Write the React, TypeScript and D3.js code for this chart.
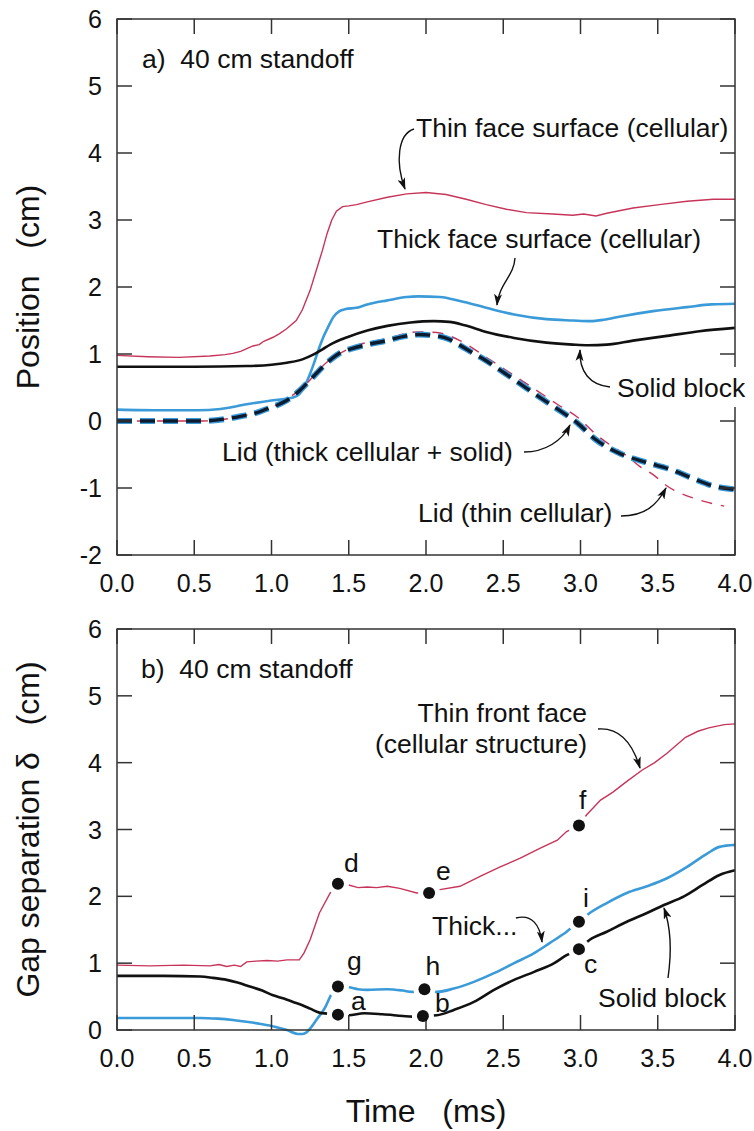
import React from "react";
import * as d3 from "d3";

// shared time axis (ms)
const timeTicks = [0, 0.5, 1, 1.5, 2, 2.5, 3, 3.5, 4];
const posTicks = [-2, -1, 0, 1, 2, 3, 4, 5, 6];
const gapTicks = [0, 1, 2, 3, 4, 5, 6];

/* a) position vs time */
const thinFaceT = [0, 0.2, 0.4, 0.6, 0.7, 0.75, 0.8, 0.84, 0.88, 0.92, 0.95, 1.01, 1.05, 1.1, 1.16, 1.2, 1.25, 1.29, 1.33, 1.36, 1.39, 1.42, 1.46, 1.5, 1.55, 1.62, 1.75, 1.875, 2.0, 2.13, 2.26, 2.39, 2.52, 2.65, 2.82, 2.95, 3.02, 3.1, 3.17, 3.34, 3.51, 3.69, 3.86, 4.0];
const thinFaceV = [0.98, 0.96, 0.95, 0.97, 0.99, 1.01, 1.04, 1.08, 1.12, 1.14, 1.19, 1.25, 1.3, 1.38, 1.5, 1.66, 1.95, 2.25, 2.55, 2.8, 3.0, 3.13, 3.2, 3.21, 3.23, 3.27, 3.34, 3.39, 3.41, 3.38, 3.31, 3.23, 3.16, 3.11, 3.09, 3.07, 3.09, 3.06, 3.1, 3.18, 3.23, 3.28, 3.31, 3.31];

const thickFaceT = [0, 0.3, 0.52, 0.67, 0.84, 1.01, 1.14, 1.18, 1.21, 1.24, 1.27, 1.31, 1.335, 1.37, 1.4, 1.44, 1.48, 1.55, 1.62, 1.75, 1.875, 1.95, 2.09, 2.22, 2.39, 2.57, 2.78, 2.95, 3.06, 3.15, 3.26, 3.47, 3.69, 3.85, 4.0];
const thickFaceV = [0.17, 0.16, 0.16, 0.18, 0.25, 0.31, 0.35, 0.4, 0.5, 0.65, 0.83, 1.1, 1.25, 1.42, 1.55, 1.64, 1.67, 1.69, 1.74, 1.8, 1.85, 1.86, 1.85, 1.79, 1.69, 1.59, 1.52, 1.5, 1.49, 1.51, 1.56, 1.64, 1.7, 1.74, 1.75];

const solidT = [0, 0.5, 0.84, 1.0, 1.1, 1.2, 1.27, 1.33, 1.38, 1.49, 1.62, 1.75, 1.9, 2.05, 2.15, 2.25, 2.39, 2.57, 2.78, 2.95, 3.05, 3.17, 3.34, 3.56, 3.77, 4.0];
const solidV = [0.81, 0.81, 0.82, 0.84, 0.87, 0.92, 0.99, 1.07, 1.14, 1.25, 1.35, 1.42, 1.47, 1.49, 1.48, 1.43, 1.33, 1.24, 1.17, 1.14, 1.13, 1.14, 1.2, 1.27, 1.34, 1.39];

const lidThickT = [0, 0.3, 0.55, 0.7, 0.8, 0.9, 0.97, 1.05, 1.1, 1.18, 1.27, 1.36, 1.44, 1.52, 1.62, 1.745, 1.85, 1.95, 2.07, 2.15, 2.22, 2.3, 2.39, 2.48, 2.57, 2.72, 2.85, 2.975, 3.1, 3.26, 3.43, 3.58, 3.73, 3.86, 4.0];
const lidThickV = [0, 0, 0, 0.03, 0.07, 0.12, 0.18, 0.25, 0.31, 0.45, 0.66, 0.87, 1.01, 1.08, 1.14, 1.2, 1.26, 1.29, 1.27, 1.22, 1.13, 1.02, 0.9, 0.76, 0.62, 0.38, 0.18, -0.02, -0.28, -0.49, -0.62, -0.72, -0.86, -0.97, -1.02];

const lidThinT = [0, 0.55, 0.8, 1.0, 1.2, 1.36, 1.52, 1.745, 1.95, 2.07, 2.22, 2.39, 2.57, 2.72, 2.85, 2.99, 3.1, 3.2, 3.3, 3.385, 3.47, 3.56, 3.65, 3.73, 3.8, 3.93];
const lidThinV = [0, 0, 0.07, 0.2, 0.5, 0.88, 1.1, 1.23, 1.33, 1.32, 1.2, 0.95, 0.68, 0.45, 0.25, 0.04, -0.2, -0.37, -0.52, -0.68, -0.8, -0.97, -1.08, -1.15, -1.2, -1.27];

/* b) gap separation vs time */
const gapThinT = [0, 0.21, 0.43, 0.6, 0.66, 0.71, 0.76, 0.8, 0.84, 0.9, 0.97, 1.04, 1.1, 1.18, 1.21, 1.25, 1.31, 1.38, 1.43, 1.5, 1.56, 1.62, 1.68, 1.75, 1.83, 1.94, 2.02, 2.09, 2.22, 2.35, 2.48, 2.61, 2.74, 2.85, 2.91, 2.99, 3.04, 3.13, 3.21, 3.3, 3.4, 3.48, 3.56, 3.68, 3.76, 3.83, 3.93, 4.0];
const gapThinV = [0.97, 0.96, 0.97, 0.96, 0.98, 0.95, 0.97, 0.95, 1.02, 1.03, 1.04, 1.03, 1.05, 1.05, 1.15, 1.35, 1.75, 2.05, 2.19, 2.17, 2.13, 2.14, 2.13, 2.15, 2.12, 2.05, 2.05, 2.1, 2.15, 2.3, 2.44, 2.57, 2.72, 2.84, 2.97, 3.06, 3.22, 3.44, 3.56, 3.72, 3.89, 4.0, 4.14, 4.38, 4.47, 4.52, 4.57, 4.58];

const gapThickT = [0, 0.3, 0.54, 0.65, 0.75, 0.85, 0.93, 1.02, 1.1, 1.17, 1.2, 1.23, 1.26, 1.29, 1.35, 1.38, 1.43, 1.5, 1.56, 1.62, 1.75, 1.85, 1.91, 1.99, 2.07, 2.18, 2.31, 2.44, 2.57, 2.7, 2.8, 2.91, 2.99, 3.06, 3.17, 3.3, 3.43, 3.56, 3.69, 3.82, 3.9, 4.0];
const gapThickV = [0.18, 0.18, 0.18, 0.17, 0.15, 0.12, 0.09, 0.05, 0.0, -0.06, -0.06, -0.03, 0.05, 0.15, 0.35, 0.5, 0.65, 0.64, 0.61, 0.6, 0.61, 0.59, 0.57, 0.6, 0.57, 0.62, 0.72, 0.85, 1.0, 1.15, 1.3, 1.47, 1.62, 1.75, 1.9, 2.05, 2.15, 2.27, 2.44, 2.64, 2.74, 2.77];

const gapSolidT = [0, 0.3, 0.54, 0.62, 0.71, 0.78, 0.86, 0.94, 1.01, 1.08, 1.14, 1.2, 1.25, 1.31, 1.36, 1.43, 1.5, 1.6, 1.72, 1.85, 1.91, 1.98, 2.07, 2.18, 2.31, 2.44, 2.57, 2.7, 2.83, 2.91, 2.99, 3.06, 3.17, 3.3, 3.43, 3.54, 3.67, 3.79, 3.9, 4.0];
const gapSolidV = [0.81, 0.81, 0.8, 0.78, 0.75, 0.71, 0.65, 0.59, 0.52, 0.47, 0.42, 0.37, 0.32, 0.26, 0.245, 0.23, 0.22, 0.25, 0.235, 0.21, 0.2, 0.21, 0.22, 0.3, 0.42, 0.6, 0.75, 0.87, 1.0, 1.12, 1.21, 1.35, 1.47, 1.62, 1.75, 1.87, 2.0, 2.17, 2.32, 2.39];

// marked instants on the gap curves
const dotLabels = ["a", "b", "c", "d", "e", "f", "g", "h", "i"];
const dotT = [1.43, 1.98, 2.99, 1.43, 2.02, 2.99, 1.43, 1.99, 2.99];
const dotV = [0.23, 0.21, 1.21, 2.19, 2.05, 3.06, 0.65, 0.61, 1.62];

const FONT = "'Liberation Sans', Arial, Helvetica, sans-serif";
const RED = "#c7345a";
const BLUE = "#3b9ad8";
const INK = "#111";
const FRAME = "#333";

const W = 754;
const H = 1131;
const x = d3.scaleLinear().domain([0, 4]).range([117, 735]);
const yA = d3.scaleLinear().domain([-2, 6]).range([555, 19]);
const yB = d3.scaleLinear().domain([0, 6]).range([1030, 629]);

const zip = (t: number[], v: number[]) => t.map((d, i) => [d, v[i]] as [number, number]);

const mkLine = (y: d3.ScaleLinear<number, number>, smooth = true) =>
  d3
    .line<[number, number]>()
    .x((d) => x(d[0]))
    .y((d) => y(d[1]))
    .curve(smooth ? d3.curveMonotoneX : d3.curveLinear);

// label offsets for the marked points (px from the dot)
const dotLabelOffset: Record<string, [number, number]> = {
  a: [13, -5],
  b: [12, -4],
  c: [5, 24],
  d: [6, -12],
  e: [7, -13],
  f: [0, -16],
  g: [9, -17],
  h: [1, -14],
  i: [4, -15],
};

function Frame({ y, ticks }: { y: d3.ScaleLinear<number, number>; ticks: number[] }) {
  const [x0, x1] = x.range();
  const [yb, yt] = y.range();
  const tl = 15;
  return (
    <g stroke={FRAME} strokeWidth={1.5} fill="none">
      <rect x={x0} y={yt} width={x1 - x0} height={yb - yt} />
      {timeTicks.map((t) => (
        <g key={"xt" + t}>
          <line x1={x(t)} x2={x(t)} y1={yb} y2={yb - tl} />
          <line x1={x(t)} x2={x(t)} y1={yt} y2={yt + tl} />
        </g>
      ))}
      {ticks.map((v) => (
        <g key={"yt" + v}>
          <line x1={x0} x2={x0 + tl} y1={y(v)} y2={y(v)} />
          <line x1={x1} x2={x1 - tl} y1={y(v)} y2={y(v)} />
        </g>
      ))}
    </g>
  );
}

function TickLabels({ y, ticks }: { y: d3.ScaleLinear<number, number>; ticks: number[] }) {
  const [x0] = x.range();
  const [yb] = y.range();
  return (
    <g fontFamily={FONT} fontSize={25} fill={INK}>
      {timeTicks.map((t) => (
        <text key={"xl" + t} x={x(t)} y={yb + 37} textAnchor="middle">
          {d3.format(".1f")(t)}
        </text>
      ))}
      {ticks.map((v) => (
        <text key={"yl" + v} x={x0 - 15} y={y(v) + 9} textAnchor="end">
          {String(v)}
        </text>
      ))}
    </g>
  );
}

const ann = { fontFamily: FONT, fontSize: 26.5, fill: INK } as const;
const arrowStyle = { fill: "none", stroke: INK, strokeWidth: 1.4, markerEnd: "url(#ah)" } as const;

export default function App() {
  const redA = mkLine(yA, false);
  const lineA = mkLine(yA);
  const redB = mkLine(yB, false);
  const lineB = mkLine(yB);

  return (
    <svg
      width={W}
      height={H}
      style={{ position: "absolute", left: 0, top: 0, background: "#fff" }}
    >
      <defs>
        <marker
          id="ah"
          viewBox="0 0 12 8"
          refX={11}
          refY={4}
          markerWidth={12}
          markerHeight={8}
          markerUnits="userSpaceOnUse"
          orient="auto"
        >
          <path d="M0,0 L12,4 L0,8 L3,4 Z" fill={INK} />
        </marker>
      </defs>
      <rect width={W} height={H} fill="#fff" />

      {/* ---------- a) position ---------- */}
      <g fill="none">
        <path d={redA(zip(thinFaceT, thinFaceV)) || ""} stroke={RED} strokeWidth={1.4} />
        <path d={lineA(zip(thickFaceT, thickFaceV)) || ""} stroke={BLUE} strokeWidth={2.6} />
        <path d={lineA(zip(solidT, solidV)) || ""} stroke={INK} strokeWidth={2.6} />
        <path
          d={lineA(zip(lidThinT, lidThinV)) || ""}
          stroke={RED}
          strokeWidth={1.4}
          strokeDasharray="11,9"
        />
        <path
          d={lineA(zip(lidThickT, lidThickV)) || ""}
          stroke={BLUE}
          strokeWidth={6}
          strokeDasharray="15,8"
        />
        <path
          d={lineA(zip(lidThickT, lidThickV)) || ""}
          stroke="#0c1c30"
          strokeWidth={3.4}
          strokeDasharray="15,8"
        />
      </g>
      <Frame y={yA} ticks={posTicks} />
      <TickLabels y={yA} ticks={posTicks} />

      <text {...ann} x={142} y={68} style={{ whiteSpace: "pre" }}>
        {"a)  40 cm standoff"}
      </text>
      <text {...ann} x={416} y={137}>
        Thin face surface (cellular)
      </text>
      <path d="M414,129 C398,134 395,162 405,189" {...arrowStyle} />
      <text {...ann} x={377} y={248}>
        Thick face surface (cellular)
      </text>
      <path d="M515,258 C514,276 499,284 497,305" {...arrowStyle} />
      <rect x={612} y={367} width={136} height={40} fill="#fff" />
      <text {...ann} x={617} y={397}>
        Solid block
      </text>
      <path d="M610,387 C590,385 579,372 580,350" {...arrowStyle} />
      <text {...ann} x={222} y={461}>
        Lid (thick cellular + solid)
      </text>
      <path d="M524,452 C545,452 562,441 570,425" {...arrowStyle} />
      <text {...ann} x={418} y={522}>
        Lid (thin cellular)
      </text>
      <path d="M621,516 C645,516 657,505 666,488" {...arrowStyle} />

      <text
        fontFamily={FONT}
        fontSize={32}
        fill={INK}
        textAnchor="middle"
        style={{ whiteSpace: "pre" }}
        transform={`translate(39,${(yA(6) + yA(-2)) / 2}) rotate(-90)`}
      >
        {"Position   (cm)"}
      </text>

      {/* ---------- b) gap separation ---------- */}
      <g fill="none">
        <path d={redB(zip(gapThinT, gapThinV)) || ""} stroke={RED} strokeWidth={1.4} />
        <path d={lineB(zip(gapThickT, gapThickV)) || ""} stroke={BLUE} strokeWidth={2.6} />
        <path d={lineB(zip(gapSolidT, gapSolidV)) || ""} stroke={INK} strokeWidth={2.6} />
      </g>
      {dotLabels.map((l, i) => (
        <circle key={"halo" + l} cx={x(dotT[i])} cy={yB(dotV[i])} r={11} fill="#fff" />
      ))}
      <Frame y={yB} ticks={gapTicks} />
      {dotLabels.map((l, i) => (
        <g key={"dot" + l}>
          <circle cx={x(dotT[i])} cy={yB(dotV[i])} r={6} fill={INK} />
          <text
            {...ann}
            x={x(dotT[i]) + dotLabelOffset[l][0]}
            y={yB(dotV[i]) + dotLabelOffset[l][1]}
          >
            {l}
          </text>
        </g>
      ))}
      <TickLabels y={yB} ticks={gapTicks} />

      <text {...ann} x={141} y={678} style={{ whiteSpace: "pre" }}>
        {"b)  40 cm standoff"}
      </text>
      <text {...ann} x={587} y={722} textAnchor="end">
        Thin front face
      </text>
      <text {...ann} x={587} y={753} textAnchor="end">
        (cellular structure)
      </text>
      <path d="M598,729 C622,727 634,748 640,768" {...arrowStyle} />
      <text {...ann} x={432} y={935}>
        Thick...
      </text>
      <path d="M516,918 C532,914 540,925 542,942" {...arrowStyle} />
      <text {...ann} x={598} y={1007}>
        Solid block
      </text>
      <path d="M668,978 C672,950 670,925 664,908" {...arrowStyle} />

      <text
        fontFamily={FONT}
        fontSize={32}
        fill={INK}
        textAnchor="middle"
        style={{ whiteSpace: "pre" }}
        transform={`translate(39,${(yB(6) + yB(0)) / 2}) rotate(-90)`}
      >
        {"Gap separation \u03b4   (cm)"}
      </text>
      <text
        fontFamily={FONT}
        fontSize={32}
        fill={INK}
        textAnchor="middle"
        style={{ whiteSpace: "pre" }}
        x={(x(0) + x(4)) / 2}
        y={1122}
      >
        {"Time   (ms)"}
      </text>
    </svg>
  );
}
